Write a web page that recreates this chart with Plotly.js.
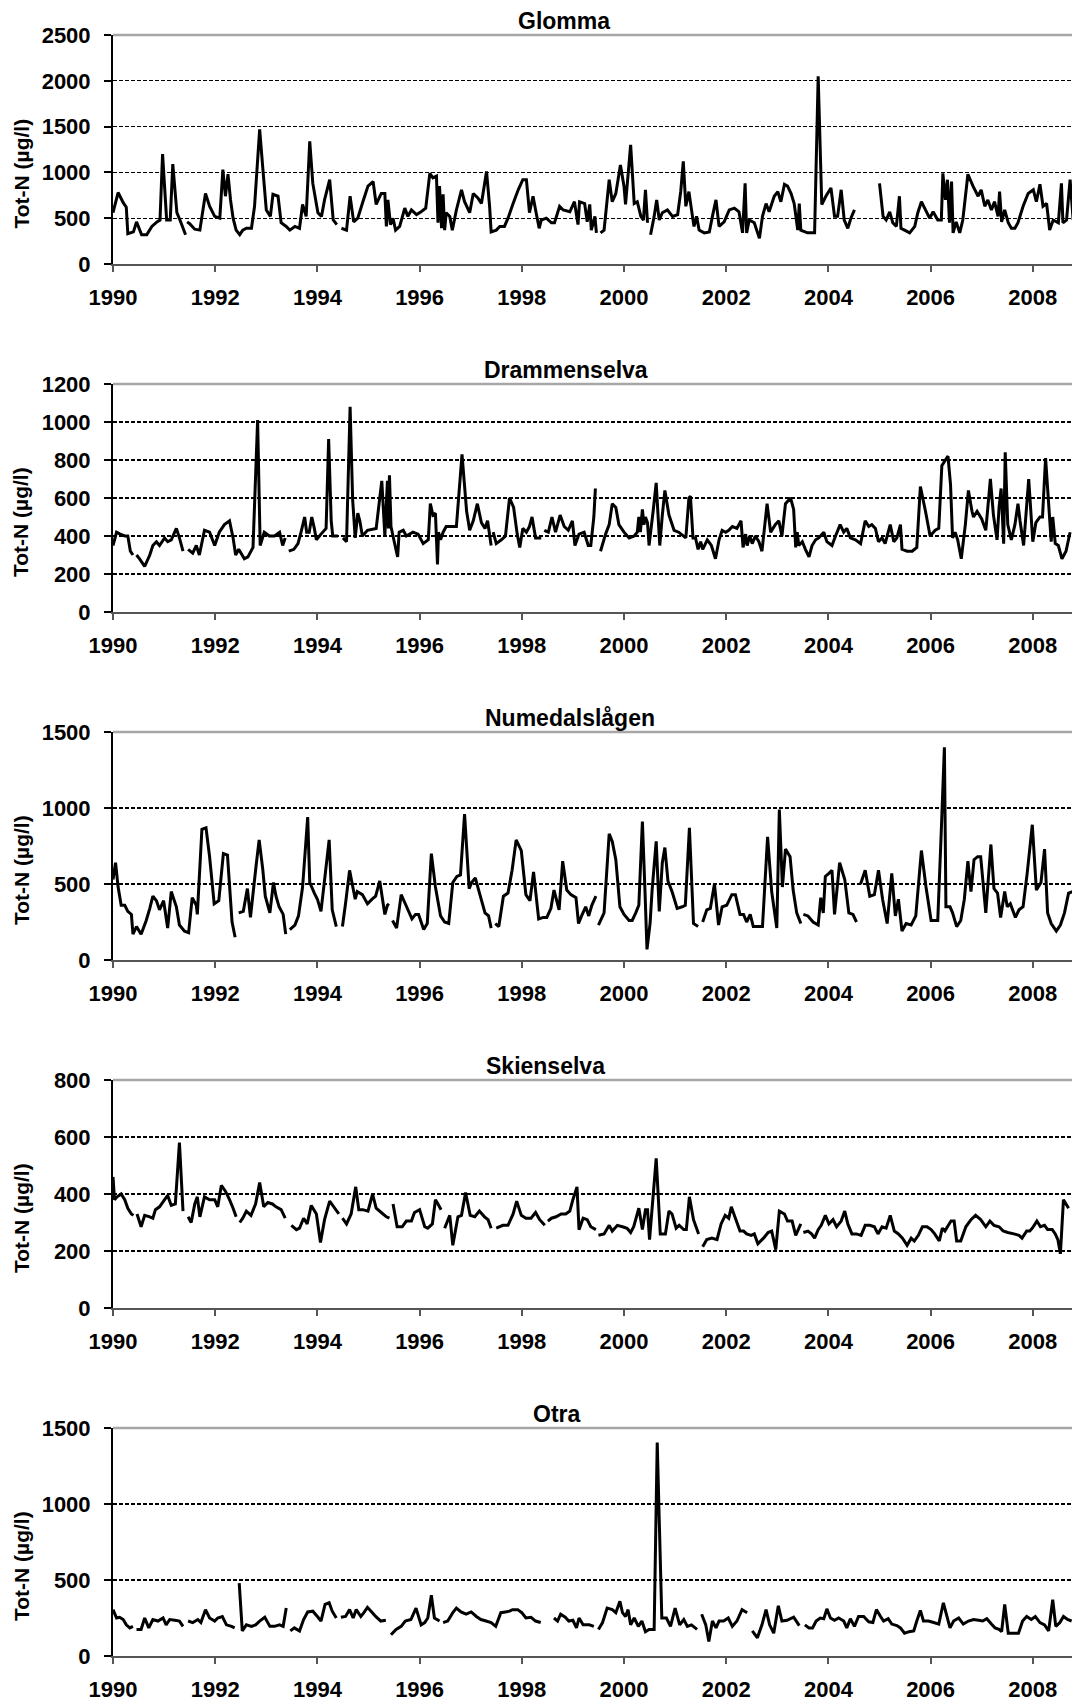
<!DOCTYPE html>
<html>
<head>
<meta charset="utf-8">
<script src="https://cdn.plot.ly/plotly-3.0.1.min.js"></script>
<style>
  html, body { margin: 0; padding: 0; background: #ffffff; }
  #chart { width: 1072px; height: 1704px; }
</style>
</head>
<body>
<div id="chart"></div>
<script>
// ---------------- DATA ----------------
const rivers = ["Glomma", "Drammenselva", "Numedalslågen", "Skienselva", "Otra"];
const yLabel = "Tot-N (µg/l)";
const yMax = [2500, 1200, 1500, 800, 1500];
const yStep = [500, 200, 500, 200, 500];
const xTickYears = [1990, 1992, 1994, 1996, 1998, 2000, 2002, 2004, 2006, 2008];

const glommaYear = [1990.00,1990.10,1990.20,1990.26,1990.29,1990.40,1990.46,1990.56,1990.66,1990.76,1990.86,1990.92,1990.97,1991.05,1991.12,1991.17,1991.25,1991.31,1991.42,null,
1991.45,1991.50,1991.60,1991.70,1991.81,1991.89,1991.99,1992.09,1992.15,1992.20,1992.25,1992.30,1992.35,1992.41,1992.48,1992.54,1992.61,1992.71,1992.77,1992.87,1992.94,1993.00,1993.08,1993.13,1993.23,1993.29,1993.39,1993.46,1993.56,1993.65,1993.71,1993.78,1993.85,1993.91,1994.01,1994.08,1994.14,1994.24,1994.31,1994.38,null,
1994.47,1994.57,1994.64,1994.71,1994.79,1994.89,1994.99,1995.09,1995.15,1995.25,1995.32,1995.35,1995.38,1995.43,1995.48,1995.53,1995.61,1995.71,1995.77,1995.84,1995.94,1996.03,1996.12,1996.20,1996.26,1996.33,1996.36,1996.39,1996.43,1996.46,1996.49,1996.52,1996.59,1996.64,1996.72,1996.82,1996.88,1996.98,1997.05,1997.14,1997.21,1997.31,1997.37,1997.40,1997.50,1997.57,1997.66,1997.73,1997.83,1997.93,1998.02,1998.09,1998.15,1998.22,1998.28,1998.34,1998.38,1998.48,1998.58,1998.64,1998.74,1998.81,1998.94,1999.03,1999.10,1999.13,1999.23,1999.28,1999.33,1999.36,1999.43,1999.46,null,
1999.54,1999.61,1999.71,1999.77,1999.84,1999.93,2000.00,2000.03,2000.13,2000.20,2000.26,2000.33,2000.38,2000.42,2000.46,null,
2000.52,2000.59,2000.64,2000.69,2000.75,2000.85,2000.95,2001.05,2001.11,2001.16,2001.21,2001.27,2001.34,2001.37,2001.42,2001.47,2001.57,2001.67,2001.73,2001.80,2001.86,2001.96,2002.06,2002.16,2002.25,2002.32,2002.37,2002.40,2002.45,2002.55,2002.65,2002.71,2002.78,2002.84,2002.94,2003.01,2003.07,2003.14,2003.20,2003.27,2003.33,2003.40,2003.43,2003.46,2003.59,2003.73,2003.80,2003.87,2003.95,2004.05,2004.12,2004.18,2004.25,2004.31,2004.38,2004.44,2004.51,null,
2005.00,2005.07,2005.13,2005.20,2005.26,2005.33,2005.39,2005.42,2005.49,2005.59,2005.69,2005.75,2005.82,2005.92,2005.98,2006.05,2006.14,2006.21,2006.24,2006.29,2006.33,2006.37,2006.41,2006.44,2006.50,2006.57,2006.63,2006.73,2006.83,2006.93,2006.99,2007.06,2007.12,2007.19,2007.25,2007.32,2007.35,2007.39,2007.45,2007.52,2007.58,2007.65,2007.71,2007.81,2007.91,2008.01,2008.07,2008.14,2008.20,2008.27,2008.33,2008.40,2008.50,2008.56,2008.59,2008.66,2008.73,2008.79];
const glommaTotN = [560,780,670,620,330,350,460,320,320,410,460,480,1200,480,480,1090,560,480,320,null,
460,440,380,370,770,630,520,500,1030,740,980,700,500,370,320,370,390,390,630,1470,990,590,520,760,740,450,410,370,410,390,650,520,1340,880,560,520,700,920,480,430,null,
390,370,740,460,500,680,850,900,650,770,770,410,700,430,500,370,410,610,520,590,540,570,610,990,940,960,450,850,390,760,370,560,520,370,590,810,680,560,770,720,660,1010,630,350,370,410,410,500,660,810,920,920,560,740,560,390,480,500,450,450,630,590,570,680,430,680,660,460,650,370,520,340,null,
340,370,920,680,770,1080,850,650,1300,660,680,520,480,810,450,null,
320,520,700,480,560,590,520,540,790,1120,630,790,520,410,520,370,340,350,520,700,410,460,590,610,570,340,880,340,480,450,280,520,660,570,740,790,680,870,850,770,660,370,660,370,340,340,2050,650,740,830,520,520,810,480,390,500,590,null,
880,520,480,570,450,410,740,390,370,340,410,560,680,570,500,570,480,480,990,700,920,450,900,340,460,340,480,980,850,740,810,630,700,590,680,520,790,460,590,450,390,390,450,630,770,810,680,870,630,660,370,480,450,880,450,480,920,480];

const drammenYear = [1990.00,1990.07,1990.14,1990.23,1990.29,1990.34,1990.39,null,
1990.46,1990.52,1990.62,1990.72,1990.78,1990.85,1990.91,1991.01,1991.07,1991.14,1991.24,1991.30,1991.37,null,
1991.47,1991.56,1991.63,1991.69,1991.79,1991.89,1991.99,1992.08,1992.18,1992.28,1992.35,1992.40,1992.46,1992.57,1992.64,1992.74,1992.83,1992.88,1992.96,1993.06,1993.16,1993.26,1993.32,1993.37,null,
1993.44,1993.54,1993.62,1993.68,1993.75,1993.79,1993.84,1993.89,1993.94,1993.98,1994.07,1994.17,1994.22,1994.27,1994.30,1994.40,null,
1994.50,1994.57,1994.64,1994.69,1994.74,1994.79,1994.83,1994.88,1994.98,1995.15,1995.26,1995.32,1995.37,1995.39,1995.41,1995.44,1995.52,1995.57,1995.60,1995.68,1995.74,1995.87,1995.97,1996.07,1996.17,1996.21,1996.26,1996.31,1996.35,1996.37,1996.41,1996.46,1996.52,1996.62,1996.72,1996.83,1996.92,1996.98,1997.05,1997.13,1997.21,1997.28,1997.33,1997.40,null,
1997.44,1997.50,1997.60,1997.68,1997.76,1997.84,1997.91,1997.96,1998.02,1998.09,1998.15,1998.20,1998.27,1998.38,null,
1998.44,1998.52,1998.59,1998.66,1998.75,1998.83,1998.91,1998.99,1999.04,1999.12,1999.22,1999.30,1999.35,1999.41,1999.44,null,
1999.54,1999.64,1999.71,1999.77,1999.84,1999.90,2000.00,2000.10,2000.20,2000.26,2000.29,2000.32,2000.36,2000.39,2000.42,2000.46,2000.49,2000.57,2000.63,2000.70,2000.75,2000.80,2000.88,2000.98,2001.07,2001.21,2001.27,2001.30,2001.35,2001.40,2001.45,2001.50,2001.54,2001.63,2001.71,2001.79,2001.86,2001.92,2001.99,2002.05,2002.12,2002.21,2002.29,2002.33,2002.38,2002.41,2002.46,2002.51,2002.57,2002.64,2002.70,2002.80,2002.87,2002.96,2003.03,2003.09,2003.16,2003.26,2003.32,2003.36,2003.39,2003.42,2003.49,2003.55,2003.62,2003.68,2003.75,2003.81,2003.91,2003.97,2004.07,2004.14,2004.23,2004.30,2004.36,2004.43,2004.53,2004.63,2004.72,2004.79,2004.85,2004.92,2004.98,2005.05,2005.11,2005.21,2005.28,2005.34,2005.41,2005.44,2005.54,2005.64,2005.73,2005.80,2005.90,2005.99,2006.09,2006.16,2006.22,2006.29,2006.34,2006.39,2006.43,2006.48,2006.53,2006.60,2006.68,2006.74,2006.81,2006.84,2006.91,2007.00,2007.08,2007.17,2007.23,2007.30,2007.34,2007.38,2007.43,2007.46,2007.51,2007.58,2007.65,2007.71,2007.75,2007.82,2007.92,2008.00,2008.06,2008.14,2008.19,2008.25,2008.31,2008.36,2008.39,2008.44,2008.50,2008.57,2008.65,2008.73];
const drammenTotN = [350,420,410,400,400,320,300,null,
300,280,240,300,350,370,350,390,370,380,440,390,320,null,
330,310,350,300,430,420,350,420,460,480,390,300,330,280,290,340,1010,350,420,400,400,420,350,390,null,
320,330,360,420,500,420,420,500,440,380,410,440,910,480,400,400,null,
390,370,1080,590,390,520,480,400,430,440,690,400,690,440,720,450,350,290,420,430,400,420,410,360,380,570,510,520,250,420,380,420,450,450,450,830,530,430,480,570,470,440,480,350,null,
420,360,380,400,600,550,410,340,440,420,450,500,390,390,null,
430,420,500,420,510,450,430,480,350,410,420,350,350,500,650,null,
320,410,460,570,550,460,420,390,400,420,500,420,540,460,500,470,350,530,680,350,510,640,510,430,420,390,600,610,390,390,330,370,330,380,350,280,380,430,420,430,450,440,480,340,410,350,400,360,400,370,320,570,420,460,480,400,570,600,540,340,420,350,370,330,290,350,380,390,420,370,350,400,460,420,440,390,380,360,480,450,460,440,370,390,360,460,370,390,460,330,320,320,340,660,530,400,430,440,770,800,820,670,390,420,380,280,460,640,530,500,530,490,430,700,510,380,550,650,360,840,460,380,460,570,480,350,700,370,470,500,500,810,570,370,500,360,350,280,320,420];

const numedalYear = [1990.00,1990.05,1990.10,1990.16,1990.23,1990.29,1990.36,1990.39,1990.46,1990.55,1990.65,1990.72,1990.78,1990.85,1990.91,1990.99,1991.07,1991.14,1991.24,1991.30,1991.40,1991.48,1991.55,1991.63,1991.65,1991.74,1991.82,1991.89,1991.98,1992.07,1992.16,1992.24,1992.33,1992.39,null,
1992.46,1992.55,1992.63,1992.69,1992.80,1992.86,1992.93,1992.98,1993.07,1993.14,1993.19,1993.25,1993.33,1993.38,null,
1993.46,1993.56,1993.63,1993.71,1993.81,1993.85,1993.94,1994.00,1994.07,1994.23,1994.29,1994.37,null,
1994.49,1994.55,1994.63,1994.74,1994.78,1994.88,1994.98,1995.07,1995.14,1995.22,1995.32,1995.37,1995.40,null,
1995.47,1995.55,1995.64,1995.72,1995.85,1995.92,1995.98,1996.08,1996.15,1996.23,1996.31,1996.41,1996.49,1996.57,1996.65,1996.73,1996.80,1996.88,1996.97,1997.02,1997.09,1997.18,1997.28,1997.35,1997.40,null,
1997.48,1997.55,1997.64,1997.73,1997.81,1997.89,1997.99,1998.08,1998.16,1998.23,1998.33,1998.42,1998.49,1998.57,1998.63,1998.73,1998.80,1998.88,1998.96,1999.06,1999.11,1999.17,1999.25,1999.31,1999.37,1999.45,null,
1999.50,1999.61,1999.71,1999.77,1999.84,1999.92,2000.00,2000.10,2000.16,2000.23,2000.29,2000.36,2000.41,2000.45,2000.51,2000.55,2000.63,2000.69,2000.75,2000.80,2000.86,2000.94,2001.04,2001.14,2001.20,2001.28,2001.36,2001.45,null,
2001.54,2001.62,2001.69,2001.77,2001.85,2001.92,2002.01,2002.11,2002.18,2002.27,2002.34,2002.40,2002.47,2002.53,2002.60,2002.71,2002.81,2002.89,2002.99,2003.04,2003.10,2003.16,2003.25,2003.31,2003.38,2003.46,null,
2003.51,2003.60,2003.70,2003.80,2003.85,2003.90,2003.94,2004.01,2004.07,2004.12,2004.22,2004.32,2004.40,2004.48,2004.55,null,
2004.63,2004.72,2004.81,2004.90,2004.98,2005.06,2005.15,2005.24,2005.31,2005.37,2005.44,2005.52,2005.62,2005.71,2005.82,2005.91,2006.01,2006.14,2006.20,2006.27,2006.30,2006.38,2006.43,2006.51,2006.59,2006.66,2006.73,2006.79,2006.85,2006.92,2006.98,2007.08,2007.18,2007.24,2007.31,2007.37,2007.45,2007.50,2007.56,2007.66,2007.73,2007.81,2007.89,2007.99,2008.07,2008.16,2008.23,2008.29,2008.36,2008.46,2008.54,2008.62,2008.70,2008.78];
const numedalTotN = [530,640,480,360,360,320,300,170,220,170,260,340,420,390,330,390,210,450,350,230,190,180,410,360,300,860,870,680,370,390,700,690,250,150,null,
310,320,470,280,620,790,600,420,310,510,420,350,300,170,null,
200,230,290,480,940,510,440,400,320,790,330,220,null,
220,370,590,400,450,430,370,400,420,520,300,360,370,null,
260,210,430,370,270,300,300,200,240,700,480,290,250,240,510,550,560,960,470,510,540,430,310,290,210,null,
240,220,420,440,590,790,720,430,390,580,270,280,280,340,460,330,650,460,430,410,240,290,350,290,360,420,null,
230,310,830,780,660,350,300,260,260,310,360,910,460,70,240,460,780,320,640,740,520,450,340,350,360,870,240,220,null,
250,330,340,500,230,350,360,430,430,300,300,250,300,220,220,220,810,450,210,990,480,730,680,460,310,240,null,
300,290,250,230,410,310,550,570,590,300,640,530,310,300,250,null,
500,590,420,430,590,400,240,570,290,400,190,240,230,290,720,480,260,260,770,1400,350,350,310,220,260,400,650,450,660,680,680,310,760,470,440,280,450,350,370,280,330,350,570,890,460,510,730,310,240,190,230,310,440,450];

const skienYear = [1990.00,1990.03,1990.08,1990.16,1990.23,1990.29,1990.36,1990.40,null,
1990.47,1990.55,1990.62,1990.72,1990.78,1990.83,1990.91,1991.01,1991.07,1991.14,1991.22,1991.30,1991.37,null,
1991.47,1991.53,1991.60,1991.65,1991.70,1991.79,1991.89,1991.99,1992.05,1992.12,1992.20,1992.28,1992.35,1992.41,null,
1992.48,1992.54,1992.61,1992.70,1992.79,1992.87,1992.95,1993.03,1993.12,1993.19,1993.29,1993.37,null,
1993.49,1993.59,1993.65,1993.73,1993.80,1993.88,1993.98,1994.06,1994.14,1994.24,1994.34,1994.42,null,
1994.49,1994.57,1994.66,1994.75,1994.81,1994.89,1994.99,1995.08,1995.15,1995.25,1995.35,1995.41,null,
1995.48,1995.56,1995.66,1995.74,1995.84,1995.90,1996.00,1996.10,1996.16,1996.25,1996.31,1996.36,1996.42,null,
1996.49,1996.59,1996.65,1996.75,1996.82,1996.90,1996.99,1997.08,1997.17,1997.27,1997.34,1997.40,null,
1997.50,1997.63,1997.73,1997.83,1997.90,1997.99,1998.08,1998.18,1998.27,1998.35,1998.45,null,
1998.51,1998.58,1998.67,1998.77,1998.86,1998.94,1999.00,1999.08,1999.12,1999.20,1999.28,1999.35,1999.45,null,
1999.50,1999.61,1999.71,1999.77,1999.87,1999.97,2000.06,2000.13,2000.19,2000.29,2000.36,2000.42,2000.46,2000.50,2000.63,2000.71,2000.81,2000.88,2000.94,2001.02,2001.08,2001.17,2001.22,2001.28,2001.36,2001.46,null,
2001.54,2001.62,2001.72,2001.82,2001.90,2001.98,2002.05,2002.10,2002.18,2002.27,2002.34,2002.40,2002.49,2002.55,2002.62,2002.73,2002.82,2002.89,2002.97,2003.04,2003.14,2003.20,2003.29,2003.36,2003.46,null,
2003.51,2003.60,2003.67,2003.73,2003.80,2003.86,2003.94,2004.01,2004.09,2004.16,2004.25,2004.32,2004.38,2004.46,2004.55,2004.64,2004.72,2004.81,2004.90,2004.97,2005.05,2005.13,2005.21,2005.29,2005.37,2005.45,2005.54,2005.62,2005.68,2005.76,2005.84,2005.93,2006.01,2006.08,2006.17,2006.23,2006.28,2006.33,2006.40,2006.46,2006.51,2006.59,2006.69,2006.79,2006.88,2006.98,2007.08,2007.16,2007.24,2007.34,2007.42,2007.51,2007.63,2007.73,2007.79,2007.88,2007.94,2007.99,2008.08,2008.15,2008.23,2008.29,2008.38,2008.44,2008.49,2008.54,2008.60,2008.70];
const skienTotN = [460,380,390,400,380,350,330,325,null,
330,285,325,320,315,345,355,380,395,360,365,580,340,null,
320,300,365,390,320,390,380,380,355,430,410,380,350,320,null,
300,315,340,325,365,440,355,370,365,355,345,315,null,
290,275,280,315,295,360,330,230,310,375,350,330,null,
315,295,330,425,345,345,340,400,350,335,320,315,null,
365,285,285,305,305,335,345,285,280,295,380,365,345,null,
280,325,220,320,325,405,325,320,340,320,310,280,null,
280,290,290,330,375,325,315,315,335,310,290,null,
305,315,320,330,330,340,380,425,275,315,310,285,275,null,
255,260,290,270,290,285,280,265,285,350,275,345,345,240,525,260,260,340,330,280,290,275,275,390,310,260,null,
215,240,245,240,295,325,315,355,315,270,270,260,255,260,225,245,265,270,205,340,330,305,305,255,295,null,
265,270,260,245,275,290,325,295,310,285,305,340,295,260,260,255,290,290,285,260,285,280,325,270,260,245,220,245,235,255,285,285,275,260,235,280,270,285,305,305,235,235,285,310,325,310,285,305,290,285,270,265,260,255,245,270,270,280,305,285,290,275,275,260,240,190,380,350];

const otraYear = [1990.00,1990.07,1990.13,1990.20,1990.26,1990.33,1990.39,null,
1990.46,1990.55,1990.62,1990.70,1990.78,1990.88,1990.98,1991.04,1991.11,1991.21,1991.30,1991.37,null,
1991.47,1991.56,1991.66,1991.72,1991.81,1991.89,1991.99,1992.05,1992.14,1992.22,1992.32,1992.38,null,
1992.47,1992.53,1992.61,1992.71,1992.79,1992.87,1992.97,1993.07,1993.16,1993.26,1993.33,1993.39,null,
1993.47,1993.55,1993.65,1993.73,1993.81,1993.91,1994.00,1994.07,1994.15,1994.23,1994.29,1994.37,null,
1994.46,1994.55,1994.63,1994.70,1994.76,1994.85,1994.91,1994.98,1995.05,1995.14,1995.24,1995.34,null,
1995.44,1995.54,1995.64,1995.72,1995.83,1995.93,1996.03,1996.10,1996.16,1996.23,1996.29,1996.39,null,
1996.46,1996.55,1996.65,1996.72,1996.81,1996.91,1997.01,1997.11,1997.20,1997.30,1997.40,1997.49,1997.59,1997.68,1997.76,1997.82,1997.92,1998.00,1998.08,1998.18,1998.27,1998.37,null,
1998.63,1998.70,1998.76,1998.85,1998.92,1999.00,1999.07,1999.12,1999.20,1999.32,1999.41,null,
1999.50,1999.58,1999.67,1999.77,1999.84,1999.92,1999.97,2000.03,2000.08,2000.13,2000.20,2000.28,2000.35,2000.42,2000.49,2000.59,2000.65,2000.74,2000.83,2000.91,2001.00,2001.09,2001.17,2001.24,2001.32,2001.43,null,
2001.52,2001.60,2001.66,2001.73,2001.80,2001.86,2001.95,2002.04,2002.12,2002.21,2002.31,2002.41,null,
2002.51,2002.61,2002.70,2002.78,2002.85,2002.93,2003.02,2003.09,2003.19,2003.32,2003.43,null,
2003.54,2003.62,2003.69,2003.76,2003.84,2003.91,2003.97,2004.04,2004.12,2004.20,2004.30,2004.36,2004.43,2004.51,2004.59,2004.69,2004.79,2004.87,2004.94,2005.02,2005.08,2005.17,2005.24,2005.34,2005.41,2005.49,2005.58,2005.67,2005.73,2005.80,2005.86,2005.96,2006.06,2006.16,2006.25,2006.32,2006.38,2006.45,2006.55,2006.64,2006.74,2006.84,2006.94,2007.02,2007.10,2007.19,2007.26,2007.34,2007.39,2007.45,2007.52,2007.62,2007.72,2007.80,2007.88,2007.97,2008.05,2008.14,2008.23,2008.31,2008.39,2008.45,2008.53,2008.60,2008.68,2008.76];
const otraTotN = [305,250,255,240,205,185,195,null,
175,175,250,185,240,230,250,205,240,235,230,195,null,
230,220,240,220,305,250,230,250,260,205,195,185,null,
480,165,205,195,205,230,255,195,195,205,195,315,null,
165,185,165,240,290,295,260,230,340,350,295,250,null,
255,260,305,250,305,260,285,320,295,260,230,235,null,
140,175,195,230,240,315,205,220,250,400,250,230,null,
220,230,285,315,290,275,290,260,240,230,220,195,285,290,295,305,305,285,250,255,230,220,null,
250,230,275,255,230,235,185,250,205,205,195,null,
175,220,315,305,285,360,285,260,305,205,250,195,230,160,175,175,1405,250,250,195,315,205,240,195,205,175,null,
275,205,95,230,185,230,230,250,195,230,305,285,null,
165,120,205,305,205,150,330,230,235,255,200,null,
205,185,185,230,250,245,310,250,235,250,230,185,245,195,260,260,225,220,305,260,230,245,210,200,185,150,160,165,230,300,230,230,220,210,350,260,185,230,250,210,230,240,235,230,245,210,185,175,160,340,150,150,150,230,260,240,260,220,205,165,370,195,220,260,240,230];

const seriesYears = [glommaYear, drammenYear, numedalYear, skienYear, otraYear];
const seriesTotN = [glommaTotN, drammenTotN, numedalTotN, skienTotN, otraTotN];

// ---------------- LAYOUT (pixel geometry of the five panels) ----------------
const W = 1072, H = 1704, ML = 113;
const plotTop = [35, 384, 732, 1080, 1428];
const plotBottom = [264, 612, 960, 1308, 1656];
const titleCx = [564, 566, 570, 545, 557];
const FONT = "'Liberation Sans', Arial, Helvetica, sans-serif";

const traces = [];
const layout = {
  width: W, height: H,
  margin: {l: ML, r: 0, t: 0, b: 0, pad: 0},
  paper_bgcolor: "#ffffff",
  plot_bgcolor: "#ffffff",
  showlegend: false,
  font: {family: FONT, color: "#000000"},
  annotations: [],
  shapes: []
};

const plotW = W - ML;
for (let i = 0; i < rivers.length; i++) {
  const n = i === 0 ? "" : String(i + 1);
  const xa = "xaxis" + n, ya = "yaxis" + n;
  const yd0 = 1 - plotBottom[i] / H, yd1 = 1 - plotTop[i] / H;

  traces.push({
    type: "scatter", mode: "lines",
    x: seriesYears[i], y: seriesTotN[i],
    xaxis: "x" + n, yaxis: "y" + n,
    connectgaps: false,
    line: {color: "#000000", width: 3, simplify: false},
    hoverinfo: "skip"
  });

  layout[xa] = {
    domain: [0, 1], anchor: "y" + n,
    range: [1990, 1990 + plotW / 51.1],
    tickmode: "array", tickvals: xTickYears, ticktext: xTickYears.map(String),
    ticks: "outside", ticklen: 6, tickwidth: 2, tickcolor: "#555555",
    showline: true, linecolor: "#555555", linewidth: 2,
    showgrid: false, zeroline: false,
    ticklabelstandoff: 7,
    tickfont: {family: FONT, size: 22, weight: "bold", color: "#000000"},
    fixedrange: true, automargin: false
  };
  layout[ya] = {
    domain: [yd0, yd1], anchor: "x" + n,
    range: [0, yMax[i]],
    tick0: 0, dtick: yStep[i],
    ticks: "outside", ticklen: 7, tickwidth: 2, tickcolor: "#000000",
    showline: true, linecolor: "#000000", linewidth: 2,
    showgrid: true, gridcolor: "#000000", gridwidth: 1.2, griddash: "4px,2px",
    zeroline: false,
    ticklabelstandoff: 9,
    tickfont: {family: FONT, size: 22, weight: "bold", color: "#000000"},
    fixedrange: true, automargin: false
  };

  // grey top border of the plot area
  layout.shapes.push({
    type: "line", xref: "x" + n + " domain", yref: "y" + n + " domain",
    x0: 0, x1: 1, y0: 1, y1: 1, layer: "above",
    line: {color: "#a6a6a6", width: 2.5}
  });

  // panel title
  layout.annotations.push({
    text: "<b>" + rivers[i] + "</b>",
    xref: "paper", yref: "paper",
    x: (titleCx[i] - ML) / plotW, y: 1 - (plotTop[i] - 14) / H,
    xanchor: "center", yanchor: "middle", showarrow: false,
    font: {family: FONT, size: 23, color: "#000000"}
  });
  // y-axis title
  layout.annotations.push({
    text: "<b>" + yLabel + "</b>",
    xref: "paper", yref: "paper",
    x: (21 - ML) / plotW, y: 1 - ((plotTop[i] + plotBottom[i]) / 2 + 24) / H,
    xanchor: "center", yanchor: "middle", textangle: -90, showarrow: false,
    font: {family: FONT, size: 21, color: "#000000"}
  });
}

Plotly.newPlot("chart", traces, layout, {staticPlot: true, displayModeBar: false});
</script>
</body>
</html>
